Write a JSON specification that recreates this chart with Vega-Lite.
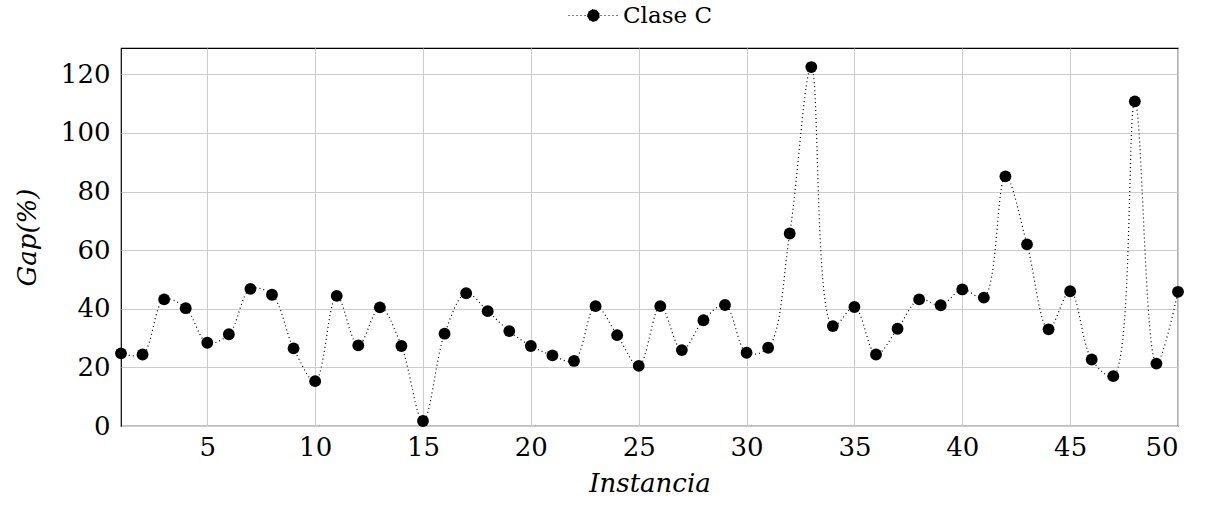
{
  "$schema": "https://vega.github.io/schema/vega-lite/v6.json",
  "autosize": "none",
  "width": 1057,
  "height": 378,
  "padding": {"left": 121, "top": 48, "right": 31, "bottom": 79},
  "background": "white",
  "config": {
    "view": {"stroke": "black", "strokeWidth": 1.2},
    "font": "DejaVu Serif",
    "legend": {"labelFont": "DejaVu Serif"},
    "axis": {
      "labelFont": "DejaVu Serif",
      "titleFont": "DejaVu Serif",
      "labelFontSize": 26,
      "titleFontSize": 26,
      "labelColor": "black",
      "titleColor": "black",
      "titleFontWeight": "normal",
      "gridColor": "#cccccc",
      "gridWidth": 1,
      "domain": false,
      "ticks": false
    }
  },
  "data": {
    "values": [
      {"inst": 1, "gap": 24.8, "serie": "Clase C"},
      {"inst": 2, "gap": 24.4, "serie": "Clase C"},
      {"inst": 3, "gap": 43.2, "serie": "Clase C"},
      {"inst": 4, "gap": 40.2, "serie": "Clase C"},
      {"inst": 5, "gap": 28.4, "serie": "Clase C"},
      {"inst": 6, "gap": 31.3, "serie": "Clase C"},
      {"inst": 7, "gap": 46.8, "serie": "Clase C"},
      {"inst": 8, "gap": 44.8, "serie": "Clase C"},
      {"inst": 9, "gap": 26.5, "serie": "Clase C"},
      {"inst": 10, "gap": 15.3, "serie": "Clase C"},
      {"inst": 11, "gap": 44.4, "serie": "Clase C"},
      {"inst": 12, "gap": 27.5, "serie": "Clase C"},
      {"inst": 13, "gap": 40.5, "serie": "Clase C"},
      {"inst": 14, "gap": 27.3, "serie": "Clase C"},
      {"inst": 15, "gap": 1.7, "serie": "Clase C"},
      {"inst": 16, "gap": 31.5, "serie": "Clase C"},
      {"inst": 17, "gap": 45.3, "serie": "Clase C"},
      {"inst": 18, "gap": 39.2, "serie": "Clase C"},
      {"inst": 19, "gap": 32.4, "serie": "Clase C"},
      {"inst": 20, "gap": 27.3, "serie": "Clase C"},
      {"inst": 21, "gap": 24.1, "serie": "Clase C"},
      {"inst": 22, "gap": 22.2, "serie": "Clase C"},
      {"inst": 23, "gap": 40.9, "serie": "Clase C"},
      {"inst": 24, "gap": 31.0, "serie": "Clase C"},
      {"inst": 25, "gap": 20.5, "serie": "Clase C"},
      {"inst": 26, "gap": 40.9, "serie": "Clase C"},
      {"inst": 27, "gap": 25.9, "serie": "Clase C"},
      {"inst": 28, "gap": 36.1, "serie": "Clase C"},
      {"inst": 29, "gap": 41.3, "serie": "Clase C"},
      {"inst": 30, "gap": 25.0, "serie": "Clase C"},
      {"inst": 31, "gap": 26.7, "serie": "Clase C"},
      {"inst": 32, "gap": 65.7, "serie": "Clase C"},
      {"inst": 33, "gap": 122.5, "serie": "Clase C"},
      {"inst": 34, "gap": 34.1, "serie": "Clase C"},
      {"inst": 35, "gap": 40.6, "serie": "Clase C"},
      {"inst": 36, "gap": 24.4, "serie": "Clase C"},
      {"inst": 37, "gap": 33.2, "serie": "Clase C"},
      {"inst": 38, "gap": 43.2, "serie": "Clase C"},
      {"inst": 39, "gap": 41.2, "serie": "Clase C"},
      {"inst": 40, "gap": 46.6, "serie": "Clase C"},
      {"inst": 41, "gap": 43.8, "serie": "Clase C"},
      {"inst": 42, "gap": 85.2, "serie": "Clase C"},
      {"inst": 43, "gap": 62.0, "serie": "Clase C"},
      {"inst": 44, "gap": 33.0, "serie": "Clase C"},
      {"inst": 45, "gap": 46.0, "serie": "Clase C"},
      {"inst": 46, "gap": 22.7, "serie": "Clase C"},
      {"inst": 47, "gap": 17.0, "serie": "Clase C"},
      {"inst": 48, "gap": 110.8, "serie": "Clase C"},
      {"inst": 49, "gap": 21.3, "serie": "Clase C"},
      {"inst": 50, "gap": 45.8, "serie": "Clase C"}
    ]
  },
  "encoding": {
    "x": {
      "field": "inst",
      "type": "quantitative",
      "scale": {"domain": [1, 50], "nice": false, "zero": false},
      "axis": {
        "values": [5, 10, 15, 20, 25, 30, 35, 40, 45, 50],
        "title": "Instancia",
        "titleFontStyle": "italic",
        "labelPadding": 8,
        "titlePadding": 10
      }
    },
    "y": {
      "field": "gap",
      "type": "quantitative",
      "scale": {"domain": [0, 129], "nice": false},
      "axis": {
        "values": [0, 20, 40, 60, 80, 100, 120],
        "title": "Gap(%)",
        "titleFontStyle": "italic",
        "labelPadding": 11,
        "titlePadding": 20
      }
    },
    "color": {
      "field": "serie",
      "type": "nominal",
      "scale": {"range": ["black"]},
      "legend": {
        "title": null,
        "orient": "none",
        "legendX": 447,
        "legendY": -58,
        "padding": 0,
        "labelFont": "DejaVu Serif",
        "labelFontSize": 23,
        "labelColor": "black",
        "labelOffset": 4,
        "symbolType": "M-1,0H1M-0.24,0A0.24,0.24,0,1,1,0.24,0A0.24,0.24,0,1,1,-0.24,0Z",
        "symbolSize": 2500,
        "symbolFillColor": "black",
        "symbolStrokeColor": "black",
        "symbolStrokeWidth": 1,
        "symbolDash": [1, 3],
        "symbolOpacity": 1
      }
    }
  },
  "layer": [
    {
      "mark": {
        "type": "line",
        "interpolate": "catmull-rom",
        "strokeDash": [1, 3],
        "strokeWidth": 1.2,
        "color": "black"
      }
    },
    {
      "mark": {
        "type": "point",
        "filled": true,
        "shape": "circle",
        "size": 140,
        "opacity": 1,
        "color": "black"
      }
    }
  ]
}
